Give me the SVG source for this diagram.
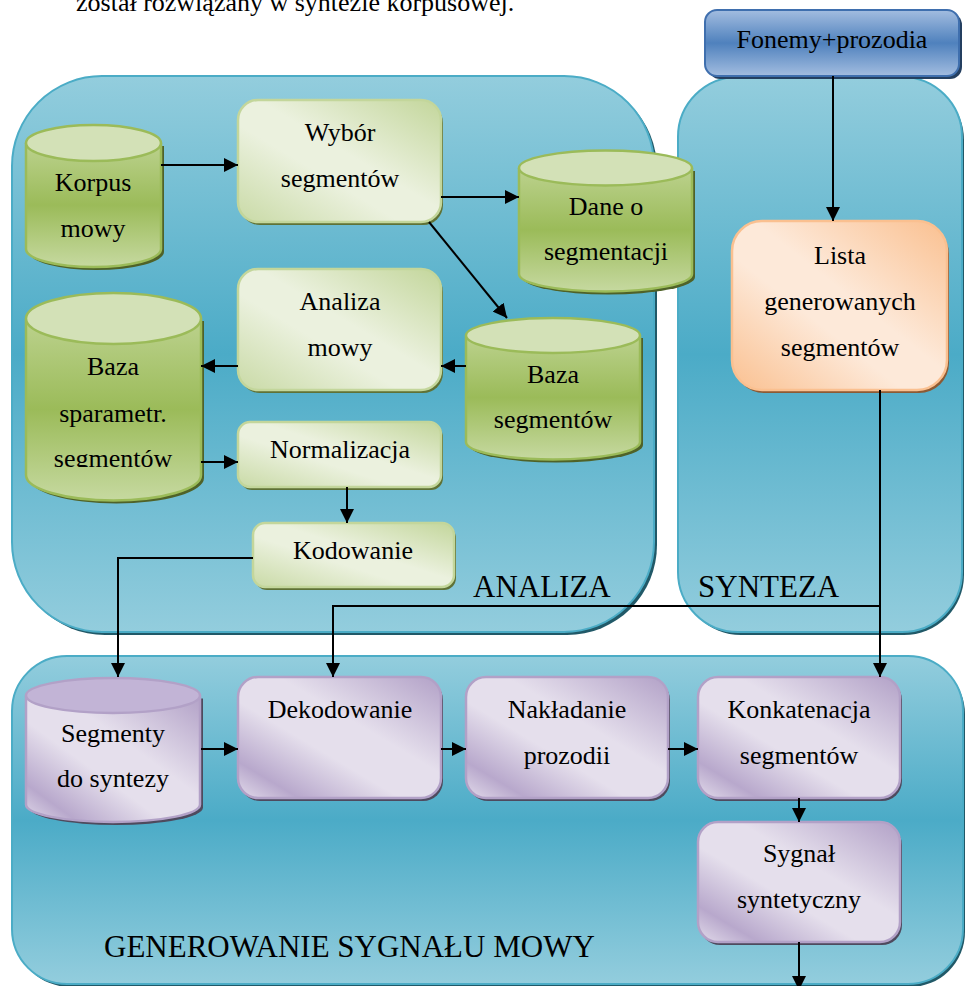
<svg xmlns="http://www.w3.org/2000/svg" width="966" height="986" viewBox="0 0 966 986">
  <defs>
    <!-- panel fill: light at the edges, saturated in the middle -->
    <linearGradient id="gPanel" x1="0" y1="0" x2="0" y2="1">
      <stop offset="0" stop-color="#93CDDD"/>
      <stop offset="0.5" stop-color="#4BABC7"/>
      <stop offset="1" stop-color="#93CDDD"/>
    </linearGradient>
    <linearGradient id="gBlue" x1="0" y1="0" x2="0" y2="1">
      <stop offset="0" stop-color="#A3BDE0"/>
      <stop offset="0.5" stop-color="#4F81BD"/>
      <stop offset="1" stop-color="#A3BDE0"/>
    </linearGradient>
    <linearGradient id="gGreenBox" x1="1" y1="0" x2="0" y2="1">
      <stop offset="0" stop-color="#C3D69B"/>
      <stop offset="0.45" stop-color="#EBF1DE"/>
      <stop offset="0.6" stop-color="#EBF1DE"/>
      <stop offset="1" stop-color="#C9DAA6"/>
    </linearGradient>
    <linearGradient id="gOrange" x1="1" y1="0" x2="0" y2="1">
      <stop offset="0" stop-color="#FAC090"/>
      <stop offset="0.45" stop-color="#FDE9D9"/>
      <stop offset="0.6" stop-color="#FDE9D9"/>
      <stop offset="1" stop-color="#FAC090"/>
    </linearGradient>
    <linearGradient id="gPurple" x1="1" y1="0" x2="0" y2="1">
      <stop offset="0" stop-color="#B2A1C7"/>
      <stop offset="0.4" stop-color="#E5DFEC"/>
      <stop offset="0.6" stop-color="#E5DFEC"/>
      <stop offset="0.85" stop-color="#B8A8CC"/>
      <stop offset="1" stop-color="#E2DBEA"/>
    </linearGradient>
    <linearGradient id="gGreenCyl" x1="0" y1="0" x2="0" y2="1">
      <stop offset="0" stop-color="#BCD28E"/>
      <stop offset="0.5" stop-color="#9BBB59"/>
      <stop offset="1" stop-color="#C6D9A0"/>
    </linearGradient>
    <marker id="arr" markerUnits="userSpaceOnUse" markerWidth="14" markerHeight="14" refX="14" refY="7" orient="auto">
      <path d="M0,0 L14,7 L0,14 Z" fill="#000"/>
    </marker>
    <clipPath id="clipSpar">
      <rect x="26" y="280" width="180" height="187"/>
    </clipPath>
    <style>
      .t { font-family: "Liberation Serif", "Times New Roman", serif; font-size: 26px; fill: #000; text-anchor: middle; }
      .lab { font-family: "Liberation Serif", "Times New Roman", serif; font-size: 31px; fill: #000; }
      .panel { fill: url(#gPanel); stroke: #4BACC6; stroke-width: 2; }
      .pshadow { fill: #215968; }
      .gbox { fill: url(#gGreenBox); stroke: #C3D69B; stroke-width: 2.5; }
      .gshadow { fill: #5F7236; }
      .pbox { fill: url(#gPurple); stroke: #B2A1C7; stroke-width: 2.5; }
      .pshadow2 { fill: #4E4A5E; }
      .cyl { fill: url(#gGreenCyl); stroke: #9BBB59; stroke-width: 2.5; }
      .cyltop { fill: #D3E1B7; stroke: #9BBB59; stroke-width: 2.5; }
      .cshadow { fill: #4F6228; }
      .conn { fill: none; stroke: #000; stroke-width: 2; }
    </style>
  </defs>

  <!-- running text of the page above the figure -->
  <text class="t" x="76" y="11" style="text-anchor:start">został rozwiązany w syntezie korpusowej.</text>

  <!-- background panels -->
  <g id="panel-analiza">
    <rect class="pshadow" x="15" y="79" width="642" height="556" rx="90"/>
    <rect class="panel" x="12" y="76" width="642" height="556" rx="90"/>
    <text class="lab" x="473" y="597">ANALIZA</text>
  </g>
  <g id="panel-synteza">
    <rect class="pshadow" x="681" y="80" width="283" height="555" rx="60"/>
    <rect class="panel" x="678" y="77" width="284" height="555" rx="60"/>
    <text class="lab" x="698" y="597">SYNTEZA</text>
  </g>
  <g id="panel-generowanie">
    <rect class="pshadow" x="15" y="659" width="950" height="328" rx="55"/>
    <rect class="panel" x="12" y="656" width="951" height="328" rx="55"/>
    <text class="lab" x="104" y="957">GENEROWANIE SYGNAŁU MOWY</text>
  </g>

  <!-- input -->
  <g id="fonemy">
    <rect x="708" y="13" width="254" height="66" rx="12" fill="#243F60"/>
    <rect x="705" y="10" width="254" height="66" rx="12" fill="url(#gBlue)" stroke="#3F6FAE" stroke-width="2"/>
    <text class="t" x="832" y="48">Fonemy+prozodia</text>
  </g>

  <!-- ANALIZA nodes -->
  <g id="korpus">
    <path class="cshadow" d="M29,146 L29,252 A67.5,18 0 0 0 164,252 L164,146 Z"/>
    <path class="cyl" d="M26,143 L26,249 A67.5,18 0 0 0 161,249 L161,143"/>
    <ellipse class="cyltop" cx="93.5" cy="143" rx="67.5" ry="18"/>
    <text class="t" x="93" y="191">Korpus</text>
    <text class="t" x="93" y="237">mowy</text>
  </g>
  <g id="wybor">
    <rect class="gshadow" x="240" y="103" width="203" height="122" rx="20"/>
    <rect class="gbox" x="238" y="100" width="203" height="122" rx="20"/>
    <text class="t" x="340" y="141">Wybór</text>
    <text class="t" x="340" y="187">segmentów</text>
  </g>
  <g id="dane">
    <path class="cshadow" d="M522,171 L522,277 A86.5,17.5 0 0 0 695,277 L695,171 Z"/>
    <path class="cyl" d="M519,168 L519,274 A86.5,17.5 0 0 0 692,274 L692,168"/>
    <ellipse class="cyltop" cx="605.5" cy="168" rx="86.5" ry="17.5"/>
    <text class="t" x="606" y="215">Dane o</text>
    <text class="t" x="606" y="260">segmentacji</text>
  </g>
  <g id="analiza-mowy">
    <rect class="gshadow" x="240" y="272" width="203" height="121" rx="20"/>
    <rect class="gbox" x="238" y="269" width="203" height="121" rx="20"/>
    <text class="t" x="340" y="310">Analiza</text>
    <text class="t" x="340" y="356">mowy</text>
  </g>
  <g id="baza-segmentow">
    <path class="cshadow" d="M469,338 L469,445 A87,17.5 0 0 0 643,445 L643,338 Z"/>
    <path class="cyl" d="M466,335.5 L466,442 A87,17.5 0 0 0 640,442 L640,335.5"/>
    <ellipse class="cyltop" cx="553" cy="335.5" rx="87" ry="17.5"/>
    <text class="t" x="553" y="383">Baza</text>
    <text class="t" x="553" y="428">segmentów</text>
  </g>
  <g id="baza-sparametr">
    <path class="cshadow" d="M29,321 L29,478 A87.5,25.5 0 0 0 204,478 L204,321 Z"/>
    <path class="cyl" d="M26,318.5 L26,475 A87.5,25.5 0 0 0 201,475 L201,318.5"/>
    <ellipse class="cyltop" cx="113.5" cy="318.5" rx="87.5" ry="25.5"/>
    <text class="t" x="113" y="375">Baza</text>
    <text class="t" x="113" y="422">sparametr.</text>
    <text class="t" x="113" y="467" clip-path="url(#clipSpar)">segmentów</text>
  </g>
  <g id="normalizacja">
    <rect class="gshadow" x="240" y="425" width="203" height="65" rx="12"/>
    <rect class="gbox" x="238" y="422" width="203" height="65" rx="12"/>
    <text class="t" x="340" y="458">Normalizacja</text>
  </g>
  <g id="kodowanie">
    <rect class="gshadow" x="255" y="526" width="201" height="64" rx="12"/>
    <rect class="gbox" x="253" y="523" width="201" height="64" rx="12"/>
    <text class="t" x="353" y="559">Kodowanie</text>
  </g>

  <!-- SYNTEZA node -->
  <g id="lista">
    <rect x="734" y="224" width="215" height="169" rx="30" fill="#8C5A34"/>
    <rect x="732" y="221" width="215" height="169" rx="30" fill="url(#gOrange)" stroke="#FAC090" stroke-width="2.5"/>
    <text class="t" x="840" y="264">Lista</text>
    <text class="t" x="840" y="310">generowanych</text>
    <text class="t" x="840" y="356">segmentów</text>
  </g>

  <!-- GENEROWANIE nodes -->
  <g id="segmenty-do-syntezy">
    <path class="pshadow2" d="M29,698.5 L29,807.5 A87,17.5 0 0 0 203,807.5 L203,698.5 Z"/>
    <path class="pbox" d="M26,695.5 L26,804.5 A87,17.5 0 0 0 200,804.5 L200,695.5"/>
    <ellipse cx="113" cy="695.5" rx="87" ry="17.5" fill="#C2B4D6" stroke="#B2A1C7" stroke-width="2.5"/>
    <text class="t" x="113" y="742">Segmenty</text>
    <text class="t" x="113" y="787">do syntezy</text>
  </g>
  <g id="dekodowanie">
    <rect class="pshadow2" x="240" y="680" width="203" height="121" rx="20"/>
    <rect class="pbox" x="238" y="677" width="203" height="121" rx="20"/>
    <text class="t" x="340" y="718">Dekodowanie</text>
  </g>
  <g id="nakladanie">
    <rect class="pshadow2" x="468" y="680" width="202" height="121" rx="20"/>
    <rect class="pbox" x="466" y="677" width="202" height="121" rx="20"/>
    <text class="t" x="567" y="718">Nakładanie</text>
    <text class="t" x="567" y="764">prozodii</text>
  </g>
  <g id="konkatenacja">
    <rect class="pshadow2" x="700" y="680" width="202" height="121" rx="20"/>
    <rect class="pbox" x="698" y="677" width="202" height="121" rx="20"/>
    <text class="t" x="799" y="718">Konkatenacja</text>
    <text class="t" x="799" y="764">segmentów</text>
  </g>
  <g id="sygnal">
    <rect class="pshadow2" x="700" y="825" width="202" height="120" rx="20"/>
    <rect class="pbox" x="698" y="822" width="202" height="120" rx="20"/>
    <text class="t" x="799" y="862">Sygnał</text>
    <text class="t" x="799" y="908">syntetyczny</text>
  </g>

  <!-- connectors -->
  <g id="connectors">
    <path class="conn" marker-end="url(#arr)" d="M161,165 L238,165"/>
    <path class="conn" marker-end="url(#arr)" d="M441,197 L519,197"/>
    <path class="conn" marker-end="url(#arr)" d="M429,222 L507,318"/>
    <path class="conn" marker-end="url(#arr)" d="M466,366 L441,366"/>
    <path class="conn" marker-end="url(#arr)" d="M238,366 L201,366"/>
    <path class="conn" marker-end="url(#arr)" d="M201,462 L238,462"/>
    <path class="conn" marker-end="url(#arr)" d="M347,487 L347,523"/>
    <path class="conn" marker-end="url(#arr)" d="M253,558 L118,558 L118,677"/>
    <path class="conn" marker-end="url(#arr)" d="M833,76 L833,221"/>
    <path class="conn" marker-end="url(#arr)" d="M880,390 L880,677"/>
    <path class="conn" marker-end="url(#arr)" d="M880,606 L333,606 L333,677"/>
    <path class="conn" marker-end="url(#arr)" d="M201,749 L238,749"/>
    <path class="conn" marker-end="url(#arr)" d="M441,749 L466,749"/>
    <path class="conn" marker-end="url(#arr)" d="M668,749 L698,749"/>
    <path class="conn" marker-end="url(#arr)" d="M799,798 L799,822"/>
    <path class="conn" marker-end="url(#arr)" d="M799,942 L799,990"/>
  </g>
</svg>
